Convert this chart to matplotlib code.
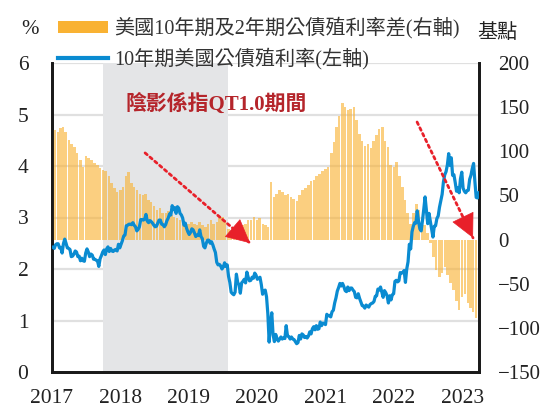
import pandas as pd
import matplotlib
matplotlib.use('Agg')
import matplotlib.pyplot as plt
from matplotlib.patches import Patch
from matplotlib.lines import Line2D

plt.rcParams['font.family'] = ['Liberation Serif', 'Noto Sans CJK TC']

# 10年期美國公債殖利率 (%), weekly
y10_2017 = [2.42, 2.40, 2.47, 2.49, 2.49, 2.41, 2.42, 2.31, 2.49, 2.58, 2.50, 2.41, 2.40,
            2.38, 2.24, 2.25, 2.29, 2.35, 2.33, 2.24, 2.25, 2.16, 2.21, 2.16, 2.15, 2.31,
            2.39, 2.33, 2.24, 2.29, 2.27, 2.19, 2.19, 2.17, 2.16, 2.05, 2.20, 2.26, 2.33,
            2.37, 2.28, 2.39, 2.43, 2.34, 2.40, 2.35, 2.34, 2.37, 2.38, 2.35, 2.48, 2.41]
y10_2018 = [2.48, 2.55, 2.64, 2.66, 2.84, 2.85, 2.87, 2.87, 2.86, 2.90, 2.85, 2.82, 2.74,
            2.77, 2.82, 2.96, 2.96, 2.95, 2.97, 3.06, 2.93, 2.90, 2.94, 2.92, 2.89, 2.85,
            2.82, 2.83, 2.89, 2.95, 2.95, 2.87, 2.86, 2.82, 2.86, 2.94, 2.99, 3.07, 3.05,
            3.23, 3.15, 3.19, 3.08, 3.21, 3.18, 3.08, 3.05, 2.99, 2.85, 2.89, 2.79, 2.72]
y10_2019 = [2.67, 2.71, 2.78, 2.76, 2.70, 2.63, 2.66, 2.65, 2.76, 2.63, 2.59, 2.44, 2.41,
            2.50, 2.56, 2.56, 2.50, 2.53, 2.47, 2.39, 2.32, 2.13, 2.08, 2.09, 2.06, 2.00,
            2.04, 2.12, 2.05, 2.08, 1.86, 1.74, 1.55, 1.52, 1.50, 1.55, 1.90, 1.74, 1.69,
            1.53, 1.73, 1.76, 1.80, 1.73, 1.94, 1.84, 1.77, 1.78, 1.84, 1.82, 1.92, 1.88]
y10_2020 = [1.80, 1.82, 1.84, 1.70, 1.51, 1.58, 1.59, 1.46, 1.13, 0.58, 0.96, 1.15, 0.72,
            0.59, 0.73, 0.65, 0.60, 0.64, 0.68, 0.64, 0.66, 0.65, 0.90, 0.70, 0.69, 0.64,
            0.68, 0.64, 0.63, 0.59, 0.55, 0.57, 0.71, 0.64, 0.74, 0.72, 0.67, 0.69, 0.66,
            0.70, 0.78, 0.74, 0.84, 0.88, 0.82, 0.90, 0.83, 0.84, 0.97, 0.90, 0.95, 0.94]
y10_2021 = [0.92, 1.12, 1.09, 1.10, 1.07, 1.17, 1.20, 1.34, 1.44, 1.57, 1.64, 1.72, 1.67,
            1.72, 1.66, 1.58, 1.56, 1.65, 1.58, 1.63, 1.63, 1.59, 1.56, 1.45, 1.44, 1.52,
            1.43, 1.36, 1.29, 1.28, 1.24, 1.30, 1.28, 1.26, 1.31, 1.33, 1.34, 1.37, 1.47,
            1.48, 1.61, 1.59, 1.65, 1.55, 1.45, 1.58, 1.54, 1.48, 1.34, 1.48, 1.40, 1.50, 1.52]
y10_2022 = [1.76, 1.78, 1.75, 1.77, 1.93, 1.92, 1.93, 1.97, 1.74, 2.00, 2.14, 2.48,
            2.39, 2.72, 2.83, 2.90, 2.89, 3.13, 2.93, 2.78, 2.74, 2.94, 3.16, 3.40, 3.13,
            2.88, 3.08, 2.93, 2.77, 2.62, 2.83, 2.84, 2.98, 3.03, 3.20, 3.32, 3.45, 3.69, 3.83,
            3.89, 4.02, 4.24, 4.01, 4.16, 3.82, 3.83, 3.68, 3.51, 3.58, 3.48, 3.75, 3.88]
y10_2023 = [3.57, 3.51, 3.48, 3.52, 3.53, 3.74, 3.82, 3.95, 4.05, 3.70, 3.39, 3.38, 3.48]

yield_10y = y10_2017 + y10_2018 + y10_2019 + y10_2020 + y10_2021 + y10_2022 + y10_2023
yield_dates = pd.date_range('2017-01-06', periods=len(yield_10y), freq='7D')

# 美國10年期及2年期公債殖利率差 (基點), semi-monthly
s_2017 = [127, 124, 122, 126, 127, 122, 113, 108, 105, 98, 90, 82,
          95, 92, 90, 87, 84, 81, 79, 78, 72, 64, 58, 54]
s_2018 = [56, 60, 72, 76, 64, 60, 56, 52, 50, 52, 45, 42,
          38, 34, 36, 30, 30, 32, 28, 26, 24, 22, 16, 18]
s_2019 = [18, 20, 18, 17, 20, 16, 14, 18, 22, 18, 20, 24,
          26, 22, 12, 4, 2, 8, 12, 16, 18, 22, 22, 26]
s_2020 = [22, 24, 18, 16, 14, 65, 48, 52, 56, 54, 50, 52,
          48, 46, 44, 50, 56, 58, 62, 66, 68, 72, 74, 78]
s_2021 = [80, 82, 98, 110, 128, 140, 155, 150, 147, 148, 150, 135,
          120, 112, 106, 108, 104, 112, 118, 125, 128, 112, 105, 85]
s_2022 = [82, 88, 72, 60, 45, 30, 18, 30, 40, 34, 26, 16,
          8, -4, -20, -35, -42, -38, -31, -40, -49, -57, -70, -80]
s_2023 = [-65, -62, -72, -78, -82, -89]

spread = s_2017 + s_2018 + s_2019 + s_2020 + s_2021 + s_2022 + s_2023
spread_dates = pd.date_range('2017-01-01', periods=len(spread), freq='SMS')

qt_start, qt_end = pd.Timestamp('2017-10-01'), pd.Timestamp('2019-08-01')
years = list(range(2017, 2024))
left_ticks = [0, 1, 2, 3, 4, 5, 6]
right_ticks = [-150, -100, -50, 0, 50, 100, 150, 200]

orange = '#f9b233'
blue = '#0a8bd1'
red = '#e8202a'

fig = plt.figure(figsize=(5.4, 4.07), dpi=100)
ax = fig.add_axes([52 / 540, 1 - 372 / 407, 427 / 540, 309 / 407])
ax2 = ax.twinx()
ax3 = ax.twinx()

# grid + QT shading on the bottom axes
ax.set_ylim(0, 6)
ax.set_yticks(left_ticks)
ax.set_xlim(pd.Timestamp('2017-01-01'), pd.Timestamp('2023-04-01'))
for v in left_ticks[1:]:
    ax.axhline(v, color='#e0e0e0', lw=1.6, zorder=0)
ax.axvspan(qt_start, qt_end, color='#e4e5e7', lw=0, zorder=1)

# spread bars on right axis
ax2.bar(spread_dates, spread, width=13.5, color=orange, alpha=0.62, lw=0)
ax2.set_ylim(-150, 200)
ax2.set_yticks(right_ticks)

# yield line on its own layer
ax3.plot(yield_dates, yield_10y, color=blue, lw=2.3)
ax3.set_ylim(0, 6)
ax3.axis('off')

ax.set_xticks([pd.Timestamp(f'{y}-01-01') for y in years])
ax.set_xticklabels([str(y) for y in years])

for a in (ax, ax2):
    a.spines['top'].set_visible(False)
    for s in ('left', 'right', 'bottom'):
        a.spines[s].set_linewidth(2)
        a.spines[s].set_color('#1a1a1a')
ax.tick_params(axis='y', length=0, pad=17, labelsize=15.5, colors='#222222')
ax.tick_params(axis='x', length=0, pad=12, labelsize=15.5, colors='#222222')
ax2.tick_params(axis='y', length=0, pad=14, labelsize=15, colors='#222222')

ax.text(0.171, 0.867, '陰影係指QT1.0期間', transform=ax.transAxes, color='#b5252b',
        fontsize=15, fontweight='bold', va='center', ha='left', zorder=10)

# dotted red arrows: dotted shaft + solid head
arrows = [((0.218, 0.709), (0.464, 0.417)), ((0.855, 0.809), (0.986, 0.434))]
for start, tip in arrows:
    ax3.annotate('', xy=tip, xytext=start, xycoords='axes fraction',
                 textcoords='axes fraction',
                 arrowprops=dict(arrowstyle='-', color=red, lw=2,
                                 linestyle=(0, (1, 1.3)), shrinkA=0, shrinkB=0))
    mid = (tip[0] - 0.12 * (tip[0] - start[0]), tip[1] - 0.12 * (tip[1] - start[1]))
    ax3.annotate('', xy=tip, xytext=mid, xycoords='axes fraction',
                 textcoords='axes fraction',
                 arrowprops=dict(arrowstyle='-|>,head_length=0.8,head_width=0.4',
                                 color=red, lw=0.5, mutation_scale=20,
                                 shrinkA=0, shrinkB=0))

handles = [Patch(facecolor=orange, edgecolor='none'),
           Line2D([], [], color=blue, lw=3)]
labels = ['美國10年期及2年期公債殖利率差(右軸)', '10年期美國公債殖利率(左軸)']
fig.legend(handles, labels, loc='upper left', bbox_to_anchor=(58 / 540, 1 - 17 / 407),
           frameon=False, fontsize=14.5, handlelength=2.5, handleheight=0.55,
           handletextpad=0.3, labelspacing=0.45, borderpad=0, borderaxespad=0,
           labelcolor='#333333')

fig.text(30 / 540, 1 - 30 / 407, '%', fontsize=15, ha='center', va='center', color='#222222')
fig.text(497 / 540, 1 - 33 / 407, '基點', fontsize=14.5, ha='center', va='center', color='#222222')

fig.savefig('out.png', dpi=100)
